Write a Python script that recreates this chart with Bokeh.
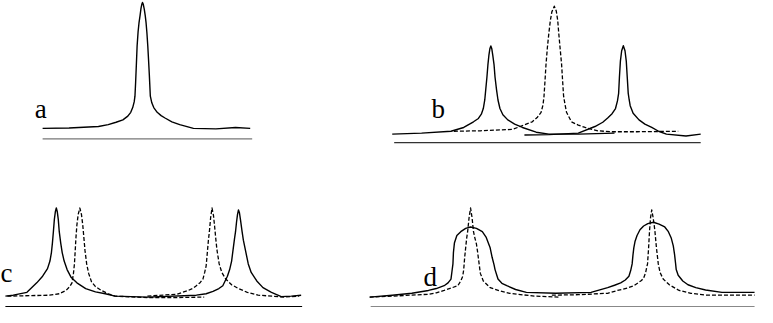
from bokeh.plotting import figure
from bokeh.models import Range1d
from bokeh.core.properties import value
from bokeh.embed import file_html
from bokeh.resources import INLINE

a_x = [43, 70, 100, 110, 118, 125, 130, 133, 135, 136.5, 137.3, 138, 138.8, 139.5, 140.5, 141.5, 142.5, 143.5,
       144.3, 145, 145.8, 146.8, 147.8, 148.6, 149.5, 150.4, 151.2, 152, 153, 154.5, 156.5, 160, 164, 168, 175,
       183, 197, 220, 240, 255]
a_y = [134, 133.5, 132, 130, 127.5, 125, 121, 117, 112, 106, 100, 85, 65, 47, 32, 22, 15, 7,
       3, 1, 3, 8, 15, 22, 33, 47, 62, 78, 100, 107, 112, 117, 120.5, 123, 127,
       130, 134, 134.5, 133, 134]

b_solid1_x = [400, 430, 460, 473, 483, 488, 491, 493, 494.5, 495.5, 496.7, 497.7, 498.7, 499.7, 500.7, 501.7,
              502.7, 504, 505, 506.5, 508, 510, 513, 518, 525, 533, 547, 560, 590, 627]
b_solid1_y = [140, 139, 137, 133, 127, 123.5, 119, 113, 104, 93, 80, 67, 57, 50, 47, 50,
              57, 67, 80, 93, 104, 113, 119.5, 125, 129.5, 133, 138, 140, 140, 139]

b_solid2_x = [535, 560, 590, 607, 615, 620, 624.5, 628, 630, 631.2, 632, 633, 634.3, 636, 637.7, 639, 640, 641,
              642, 643, 646, 652, 658, 665, 672, 680, 700, 715]
b_solid2_y = [141, 140.5, 139, 132, 127.5, 123, 118.5, 113, 105, 97, 80, 63, 52, 46.7, 52, 63, 80, 97,
              104, 110, 118, 125, 129.5, 133, 137, 140, 142, 140]

b_dash_x = [463, 490, 523, 543, 548, 552, 554, 555, 556, 557, 558.5, 560, 561.5, 563, 565.5, 567.5, 569, 570,
            571.5, 573, 574, 575, 576.5, 578, 583, 590, 597, 610, 623, 650, 692]
b_dash_y = [137, 136.5, 135, 127, 122.5, 117, 109, 100, 84, 67, 48, 33, 20, 11, 5, 10, 20, 33,
            50, 67, 84, 100, 109, 117, 127, 130.5, 133, 136.5, 137.5, 137.5, 137]

c_solid_x = [5, 13, 27, 37, 43, 48, 50.5, 52, 53, 54, 55, 56, 57, 58, 59, 60, 61.5, 63, 65, 68, 72, 78, 87, 97,
             107, 117, 150, 200, 210, 217, 223, 227, 231.7, 234, 236, 237.5, 239, 240, 241, 242, 243, 244, 245,
             246.7, 248, 250, 253, 256, 261.7, 268, 276.7, 286.7, 297, 307]
c_solid_y = [311, 310, 307, 297, 290, 282, 274, 265, 255, 243, 230, 222, 218, 222, 230, 243, 255, 265, 274, 283,
             291, 297, 303, 306.5, 308.5, 311, 312, 310, 308.5, 306, 303, 300, 290, 283, 274, 262, 250, 243, 233,
             225, 220, 223, 230, 243, 252, 262, 277, 286, 295, 302, 307, 311.5, 311, 310]

c_dash1_x = [7, 30, 50, 60, 67, 71, 73, 74.5, 75.5, 76.3, 77, 78, 79.3, 81, 82.7, 84, 85.2, 86.3, 88, 90, 93, 97,
             103, 110, 117, 150, 180, 208]
c_dash1_y = [311, 310.5, 310, 308.5, 305, 300.5, 297, 287, 277, 263, 250, 236, 225, 218, 225, 236, 250, 263, 277,
             287, 296, 301, 305, 308.5, 311, 312.5, 312.5, 312]

c_dash2_x = [150, 180, 191.7, 197, 200, 204, 206.7, 208.5, 210, 211.2, 212.3, 213.3, 214.6, 216, 217.5, 218.7,
             219.8, 221, 223.3, 226, 230, 236, 243, 252, 263, 290, 305]
c_dash2_y = [311, 309, 305, 302.5, 300, 296.5, 293, 286, 279, 265, 252, 243, 228, 218, 226, 238,
             250, 262, 277, 286, 293, 299, 303, 307, 310, 312, 311]

d_solid_x = [377, 400, 420, 437, 445, 453, 457, 460, 461, 462, 462.5, 463.5, 466, 470, 475, 480, 486, 492, 496,
             500, 502, 504, 505, 508, 512, 517, 526, 537, 567, 603, 620, 627, 633.3, 638, 641.7, 643.5, 645,
             645.8, 646.7, 648, 650, 653, 656.7, 661, 666.7, 672.5, 678.3, 682, 685, 687, 688.3, 689.3, 690,
             692, 696.7, 702, 710, 720, 736.7, 770]
d_solid_y = [312, 310, 308, 305, 303, 300, 297, 293, 285, 277, 265, 255, 247, 243, 239.5, 238, 239.5, 243, 249,
             260, 270, 278, 283, 293, 297.5, 300, 304, 307, 308, 307, 302, 299.5, 297, 294, 290, 284, 277,
             268, 260, 253, 247, 241, 237, 234.5, 233, 235, 238, 243, 250, 258, 267, 276, 283,
             289, 295, 299, 302, 304.5, 307, 307]

d_dash1_x = [377, 400, 437, 445, 453, 460, 467, 470, 472, 473, 474, 475, 476, 477, 478.5, 480, 481.5, 483, 484.5,
             486, 487, 488.5, 490, 493, 500, 510, 520, 545, 570]
d_dash1_y = [312, 311, 309, 307.5, 305, 302.5, 300, 295, 290, 283, 270, 260, 250, 243, 228, 218, 228, 243, 250,
             256, 263, 275, 287, 295, 302, 305.5, 308, 311, 312]

d_dash2_x = [563, 590, 620, 630, 640, 646.7, 651, 654.5, 656.7, 658.8, 660, 660.7, 661.8, 662.7, 663.8, 665,
             666.4, 667.5, 668.3, 669.8, 671.7, 673.5, 676.7, 683, 693, 705, 720, 770]
d_dash2_y = [310, 309.5, 308, 305, 302.5, 300, 297, 294.5, 292, 286, 280, 277, 260, 243, 228, 220,
             228, 236, 243, 260, 277, 286, 293, 299, 305, 308, 310, 310]

# Baselines under each panel: (x start, x end, y)
base_x0 = [43, 402, 5, 378]
base_x1 = [257, 715, 308, 770]
base_y = [145, 149, 322, 322]
base_colors = ["#777777", "#333333", "#000000", "#888888"]

labels = ["a", "b", "c", "d"]
label_x = [35, 440, 0, 432]
label_y = [113, 113, 287, 291]

p = figure(width=757, height=307, output_backend="svg", toolbar_location=None,
           x_range=Range1d(0, 773), y_range=Range1d(323, -1), min_border=0)
p.axis.visible = False
p.grid.visible = False
p.outline_line_color = None

for xs, ys in [(a_x, a_y), (b_solid1_x, b_solid1_y), (b_solid2_x, b_solid2_y),
               (c_solid_x, c_solid_y), (d_solid_x, d_solid_y)]:
    p.line(xs, ys, line_color="black", line_width=1.4, line_join="round")

for xs, ys in [(b_dash_x, b_dash_y), (c_dash1_x, c_dash1_y), (c_dash2_x, c_dash2_y),
               (d_dash1_x, d_dash1_y), (d_dash2_x, d_dash2_y)]:
    p.line(xs, ys, line_color="black", line_width=1.3, line_dash="4 2", line_join="round")

p.segment(x0=base_x0, y0=base_y, x1=base_x1, y1=base_y, line_color=base_colors, line_width=1.2)

p.text(x=label_x, y=label_y, text=labels, text_font=value("Liberation Serif"),
       text_font_size="27px", text_baseline="alphabetic", text_align="left", text_color="black")

open("out.html", "w").write(file_html(p, INLINE))
